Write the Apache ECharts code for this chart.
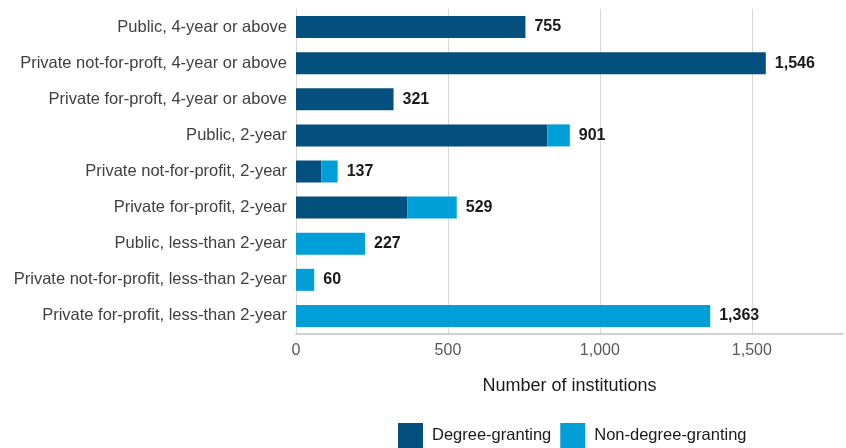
<!DOCTYPE html>
<html>
<head>
<meta charset="utf-8">
<script src="https://cdn.jsdelivr.net/npm/echarts@6/dist/echarts.min.js"></script>
<style>html,body{margin:0;padding:0;background:#fff}#c{width:846px;height:448px}</style>
</head>
<body>
<div id="c"></div>
<script>
const categories = [
  "Public, 4-year or above",
  "Private not-for-proft, 4-year or above",
  "Private for-proft, 4-year or above",
  "Public, 2-year",
  "Private not-for-profit, 2-year",
  "Private for-profit, 2-year",
  "Public, less-than 2-year",
  "Private not-for-profit, less-than 2-year",
  "Private for-profit, less-than 2-year"
];
const degreeGranting = [755, 1546, 321, 827, 83, 366, 0, 0, 0];
const nonDegreeGranting = [0, 0, 0, 74, 54, 163, 227, 60, 1363];
const seriesNames = ["Degree-granting", "Non-degree-granting"];
const xTicks = { min: 0, max: 1800, interval: 500 };

const totals = categories.map((_, i) => degreeGranting[i] + nonDegreeGranting[i]);
const fmt = v => v.toLocaleString('en-US');

const chart = echarts.init(document.getElementById('c'), null, { renderer: 'canvas' });
const FONT = '"Liberation Sans", Arial, sans-serif';
chart.setOption({
  animation: false,
  textStyle: { fontFamily: FONT },
  grid: { left: 296, right: 3, top: 9, height: 325, containLabel: false },
  xAxis: {
    type: 'value',
    min: xTicks.min, max: xTicks.max, interval: xTicks.interval,
    name: 'Number of institutions',
    nameLocation: 'middle',
    nameGap: 43,
    nameTextStyle: { fontSize: 18, color: '#1a1a1a', fontFamily: FONT },
    axisLine: { show: true, lineStyle: { color: '#c4c4c4', width: 1.5 } },
    axisTick: { show: false },
    axisLabel: { fontSize: 16, color: '#595959', margin: 9, showMaxLabel: false, fontFamily: FONT,
      formatter: v => v === xTicks.max ? '' : fmt(v) },
    splitLine: { show: true, showMaxLine: false, lineStyle: { color: '#d9d9d9', width: 1 } }
  },
  yAxis: {
    type: 'category',
    data: categories,
    inverse: true,
    axisLine: { show: false },
    axisTick: { show: false },
    axisLabel: { fontSize: 16.5, color: '#404040', margin: 9, fontFamily: FONT }
  },
  legend: {
    data: seriesNames,
    left: 398, top: 423, padding: 0,
    itemWidth: 25, itemHeight: 25, itemGap: 9,
    icon: 'rect',
    textStyle: { fontSize: 16.5, color: '#1a1a1a', fontFamily: FONT, padding: [0, 0, 0, 4] }
  },
  series: [
    {
      name: seriesNames[0], type: 'bar', stack: 'total',
      data: degreeGranting, barWidth: 22,
      itemStyle: { color: '#034f7d' }
    },
    {
      name: seriesNames[1], type: 'bar', stack: 'total',
      data: nonDegreeGranting, barWidth: 22,
      itemStyle: { color: '#009fd7' },
      label: {
        show: true, position: 'right', distance: 9,
        fontSize: 16, fontWeight: 'bold', color: '#1a1a1a', fontFamily: FONT,
        formatter: p => fmt(totals[p.dataIndex])
      }
    }
  ]
});
</script>
</body>
</html>
